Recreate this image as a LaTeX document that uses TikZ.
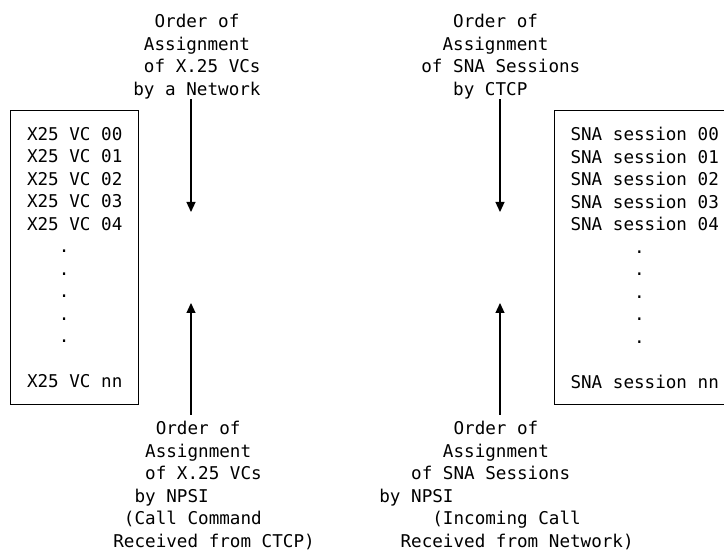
\documentclass[tikz,border=0pt]{standalone}
\usepackage{fontspec}
\setmonofont{DejaVu Sans Mono}
\usetikzlibrary{arrows.meta}
% indent by n character cells
\newcommand{\col}[1]{\hspace*{#1\fontcharwd\font`0}}
\tikzset{
	mono/.style={font=\ttfamily\fontsize{8.8}{11.25}\selectfont},
	lbl/.style={mono, align=left, anchor=north west, inner sep=0pt},
	listbox/.style={mono, draw, line width=0.7pt, align=left, anchor=north west,
		inner sep=0pt, minimum height=147pt},
	flow/.style={line width=0.6pt, -{Triangle[length=5pt,width=4.5pt]}}
}
\begin{document}
\begin{tikzpicture}[x=0.5pt,y=-0.5pt]
	\clip (0,0) rectangle (724,550);
	% the two lists
	\node[listbox, minimum width=64pt] (boxX) at (10,110)
		{X25 VC 00\\X25 VC 01\\X25 VC 02\\X25 VC 03\\X25 VC 04\\
		 \col{3}.\\\col{3}.\\\col{3}.\\\col{3}.\\\col{3}.\\ \\X25 VC nn};
	\node[listbox, minimum width=90pt] (boxS) at (554,110)
		{SNA session 00\\SNA session 01\\SNA session 02\\SNA session 03\\SNA session 04\\
		 \col{6}.\\\col{6}.\\\col{6}.\\\col{6}.\\\col{6}.\\ \\SNA session nn};
	% labels
	\node[lbl] (lblTL) at (133,14)
		{\col{2}Order of\\\col{1}Assignment\\\col{1}of X.25 VCs\\by a Network};
	\node[lbl] (lblTR) at (421,14)
		{\col{3}Order of\\\col{2}Assignment\\of SNA Sessions\\\col{3}by CTCP};
	\node[lbl] (lblBL) at (113,421)
		{\col{4}Order of\\\col{3}Assignment\\\col{3}of X.25 VCs\\\col{2}by NPSI\\
		 \col{1}(Call Command\\Received from CTCP)};
	\node[lbl] (lblBR) at (379,421)
		{\col{7}Order of\\\col{6}Assignment\\\col{3}of SNA Sessions\\by NPSI\\
		 \col{5}(Incoming Call\\\col{2}Received from Network)};
	% arrows
	\coordinate (tipTL) at (191,212);
	\coordinate (tipTR) at (500,212);
	\coordinate (tipBL) at (191,303);
	\coordinate (tipBR) at (500,303);
	\draw[flow] (lblTL.south -| tipTL) -- (tipTL);
	\draw[flow] (lblTR.south -| tipTR) -- (tipTR);
	\draw[flow, shorten <=3pt] (lblBL.north -| tipBL) -- (tipBL);
	\draw[flow, shorten <=3pt] (lblBR.north -| tipBR) -- (tipBR);
\end{tikzpicture}
\end{document}
